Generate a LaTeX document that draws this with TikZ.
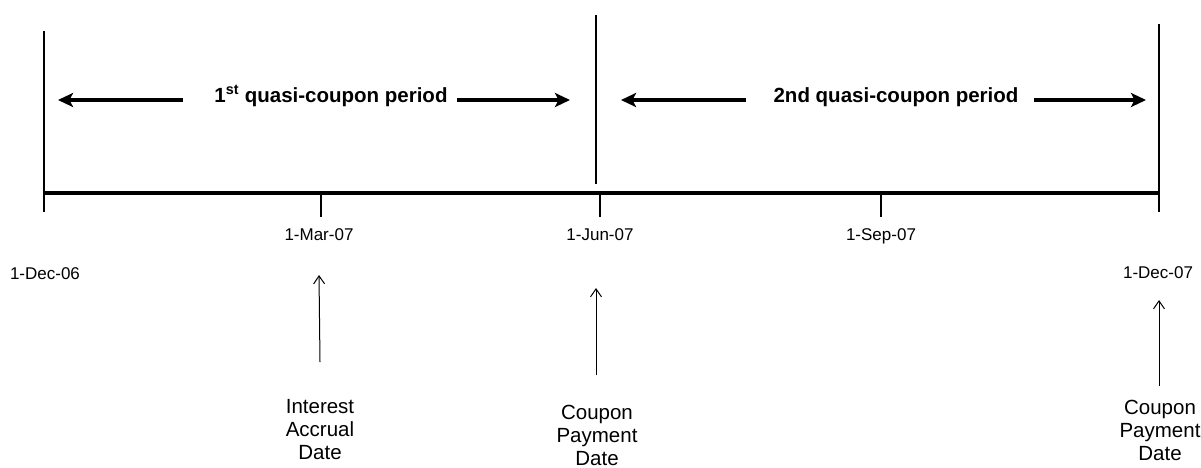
\documentclass[tikz,border=0pt]{standalone}
\usepackage{fontspec}
\setmainfont{Liberation Sans}
\usetikzlibrary{arrows.meta}

\begin{document}
\begin{tikzpicture}[x=1pt,y=-1pt,
  axis/.style={line width=4pt},
  rule/.style={line width=1.3pt},
  period/.style={line width=3.5pt,-{Stealth[length=15pt,width=14pt,inset=3.5pt]}},
  pointer/.style={line width=1pt,-{Straight Barb[length=8pt,width=11pt]}},
  datelbl/.style={anchor=base,font=\fontsize{17}{20}\selectfont},
  eventlbl/.style={align=center,inner sep=0pt,font=\fontsize{20.5}{23}\selectfont},
  periodlbl/.style={anchor=base,font=\fontsize{20.5}{24}\selectfont\bfseries}]
\useasboundingbox (0,0) rectangle (1201,467) ;

\coordinate (d0) at (44,193) ;
\coordinate (d1) at (321,193) ;
\coordinate (d2) at (600,193) ;
\coordinate (d3) at (881,193) ;
\coordinate (d4) at (1159,193) ;

\draw[rule] (44,31) -- (44,212) ;
\draw[rule] (596,15) -- (596,184) ;
\draw[rule] (1159,24) -- (1159,212) ;
\draw[rule] (d1) -- (321,217) ;
\draw[rule] (d2) -- (600,217) ;
\draw[rule] (d3) -- (881,217) ;
\draw[axis] (d0) -- (d4) ;

\node[periodlbl] (first) at (331,102) {1\textsuperscript{st} quasi-coupon period} ;
\node[periodlbl] (second) at (896,102) {2nd quasi-coupon period} ;

\coordinate (f1) at (183,100) ;
\coordinate (f2) at (58,100) ;
\coordinate (f3) at (457,100) ;
\coordinate (f4) at (570,100) ;
\coordinate (s1) at (746,100) ;
\coordinate (s2) at (621,100) ;
\coordinate (s3) at (1034,100) ;
\coordinate (s4) at (1146,100) ;
\draw[period] (f1) -- (f2) ;
\draw[period] (f3) -- (f4) ;
\draw[period] (s1) -- (s2) ;
\draw[period] (s3) -- (s4) ;

\node[datelbl] (dec06) at (45,279) {1-Dec-06} ;
\node[datelbl] (mar) at (319,240) {1-Mar-07} ;
\node[datelbl] (jun) at (600,240) {1-Jun-07} ;
\node[datelbl] (sep) at (881,240) {1-Sep-07} ;
\node[datelbl] (dec07) at (1158,278) {1-Dec-07} ;

\node[eventlbl] (accrual) at (320,430) {Interest\\Accrual\\Date} ;
\node[eventlbl] (pay1) at (597,435) {Coupon\\Payment\\Date} ;
\node[eventlbl] (pay2) at (1160,430) {Coupon\\Payment\\Date} ;

\coordinate (a1) at (320,362) ;
\coordinate (a2) at (596,375) ;
\coordinate (a3) at (1159,386) ;
\draw[pointer] (a1) -- (mar.south |- 0,275) ;
\draw[pointer] (a2) -- (596,288) ;
\draw[pointer] (a3) -- (1159,300) ;

\end{tikzpicture}
\end{document}
